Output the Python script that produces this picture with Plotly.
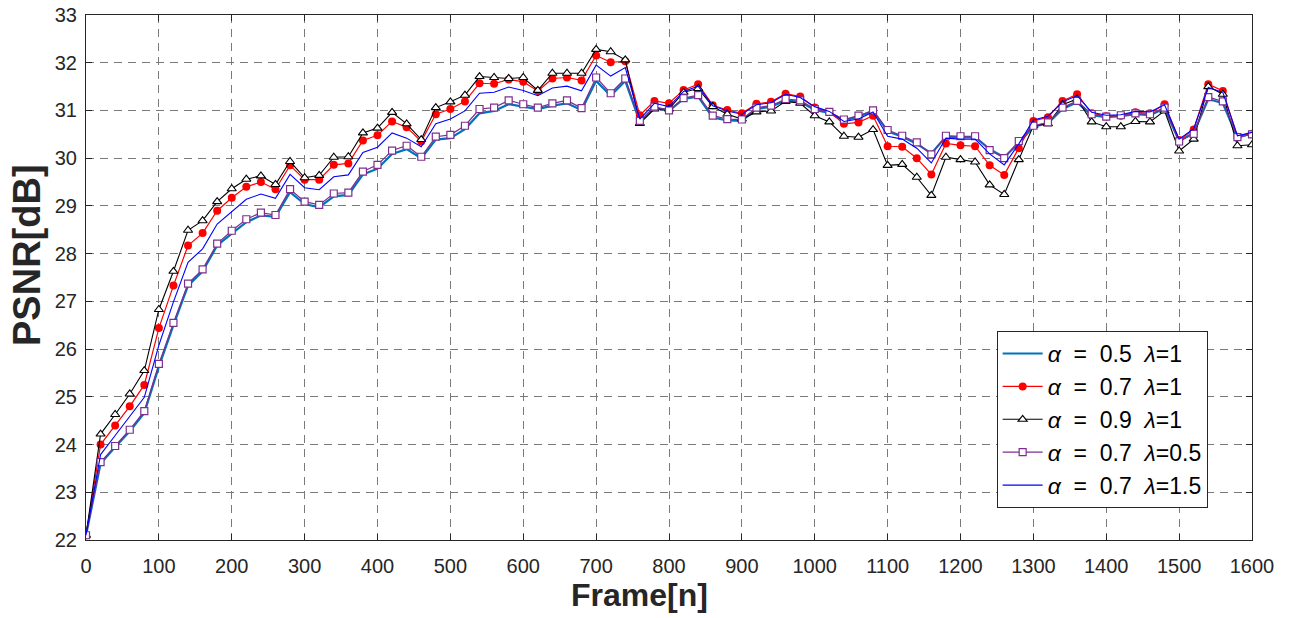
import plotly.graph_objects as go

# Frame index (every 20 frames)
frames = list(range(0, 1601, 20))

# PSNR [dB] per configuration
psnr_a05_l1 = [22.1, 23.6, 23.95, 24.28, 24.66, 25.63, 26.5, 27.33, 27.63, 28.17,
               28.42, 28.66, 28.8, 28.77, 29.29, 29.04, 28.97, 29.2, 29.23, 29.66,
               29.78, 30.09, 30.19, 30.0, 30.39, 30.42, 30.61, 30.94, 30.99, 31.13,
               31.08, 31.03, 31.1, 31.15, 31.01, 31.62, 31.31, 31.62, 30.76, 31.06,
               30.99, 31.24, 31.29, 30.85, 30.79, 30.78, 31.03, 31.08, 31.21, 31.18,
               31.01, 30.95, 30.79, 30.87, 30.99, 30.56, 30.45, 30.3, 30.1, 30.45,
               30.44, 30.44, 30.19, 30.02, 30.32, 30.66, 30.73, 31.03, 31.17, 30.9,
               30.86, 30.88, 30.92, 30.9, 31.04, 30.36, 30.53, 31.24, 31.15, 30.43,
               30.52]
psnr_a07_l1 = [22.1, 24.0, 24.4, 24.8, 25.25, 26.44, 27.33, 28.17, 28.43, 28.9,
               29.17, 29.4, 29.5, 29.35, 29.85, 29.55, 29.55, 29.86, 29.89, 30.37,
               30.48, 30.77, 30.65, 30.35, 30.92, 31.03, 31.19, 31.57, 31.56, 31.65,
               31.6, 31.41, 31.67, 31.69, 31.63, 32.15, 32.01, 32.03, 30.9, 31.2,
               31.15, 31.43, 31.55, 31.11, 31.01, 30.94, 31.14, 31.18, 31.35, 31.29,
               31.06, 30.97, 30.72, 30.75, 30.89, 30.25, 30.24, 30.0, 29.66, 30.31,
               30.27, 30.25, 29.85, 29.65, 30.21, 30.78, 30.86, 31.2, 31.34, 30.94,
               30.88, 30.89, 30.96, 30.94, 31.13, 30.38, 30.6, 31.55, 31.41, 30.45,
               30.51]
psnr_a09_l1 = [22.1, 24.22, 24.63, 25.06, 25.55, 26.83, 27.63, 28.49, 28.69, 29.09,
               29.36, 29.56, 29.63, 29.45, 29.93, 29.59, 29.64, 30.02, 30.03, 30.53,
               30.63, 30.96, 30.72, 30.39, 31.06, 31.18, 31.32, 31.71, 31.69, 31.67,
               31.69, 31.42, 31.78, 31.78, 31.78, 32.28, 32.23, 32.06, 30.73, 31.03,
               31.03, 31.38, 31.46, 31.08, 30.92, 30.82, 30.97, 30.99, 31.19, 31.15,
               30.89, 30.76, 30.46, 30.44, 30.6, 29.85, 29.87, 29.6, 29.22, 30.02,
               29.97, 29.92, 29.44, 29.24, 29.97, 30.68, 30.72, 31.12, 31.24, 30.76,
               30.66, 30.66, 30.77, 30.76, 30.99, 30.15, 30.4, 31.5, 31.34, 30.26,
               30.28]
psnr_a07_l05 = [22.1, 23.63, 23.97, 24.31, 24.7, 25.69, 26.55, 27.37, 27.67, 28.21,
                28.48, 28.72, 28.86, 28.81, 29.35, 29.09, 29.02, 29.26, 29.28, 29.72,
                29.86, 30.16, 30.26, 30.03, 30.45, 30.49, 30.68, 31.03, 31.06, 31.21,
                31.13, 31.06, 31.15, 31.21, 31.05, 31.69, 31.36, 31.67, 30.78, 31.08,
                31.0, 31.26, 31.32, 30.89, 30.82, 30.81, 31.06, 31.1, 31.24, 31.21,
                31.03, 30.97, 30.81, 30.89, 31.0, 30.59, 30.47, 30.33, 30.08, 30.47,
                30.46, 30.46, 30.17, 30.0, 30.36, 30.68, 30.75, 31.06, 31.2, 30.92,
                30.87, 30.9, 30.94, 30.92, 31.06, 30.35, 30.51, 31.28, 31.19, 30.44,
                30.5]
psnr_a07_l15 = [22.1, 23.79, 24.19, 24.59, 24.99, 26.08, 26.99, 27.82, 28.1, 28.62,
                28.88, 29.14, 29.25, 29.16, 29.66, 29.38, 29.34, 29.61, 29.65, 30.12,
                30.23, 30.53, 30.42, 30.24, 30.72, 30.82, 30.99, 31.36, 31.38, 31.49,
                31.42, 31.31, 31.47, 31.51, 31.41, 31.95, 31.72, 31.9, 30.82, 31.15,
                31.08, 31.4, 31.51, 31.1, 30.99, 30.92, 31.12, 31.16, 31.34, 31.27,
                31.08, 30.98, 30.77, 30.82, 30.97, 30.46, 30.4, 30.21, 29.9, 30.42,
                30.4, 30.4, 30.09, 29.86, 30.3, 30.8, 30.88, 31.18, 31.31, 30.96,
                30.9, 30.91, 30.98, 30.97, 31.12, 30.4, 30.62, 31.48, 31.38, 30.47,
                30.54]

x_ticks = list(range(0, 1601, 100))
y_ticks = list(range(22, 34))

SP = "\u00a0 "  # wide gap between legend tokens
series_names = [
    f"<i>α</i>{SP}={SP}0.5{SP}<i>λ</i>=1",
    f"<i>α</i>{SP}={SP}0.7{SP}<i>λ</i>=1",
    f"<i>α</i>{SP}={SP}0.9{SP}<i>λ</i>=1",
    f"<i>α</i>{SP}={SP}0.7{SP}<i>λ</i>=0.5",
    f"<i>α</i>{SP}={SP}0.7{SP}<i>λ</i>=1.5",
]

fig = go.Figure()

fig.add_trace(go.Scatter(
    x=frames, y=psnr_a05_l1, name=series_names[0], mode="lines",
    line=dict(color="#0072BD", width=2.2)))
fig.add_trace(go.Scatter(
    x=frames, y=psnr_a07_l1, name=series_names[1], mode="lines+markers",
    line=dict(color="#FF0000", width=1.2),
    marker=dict(symbol="circle", size=8, color="#FF0000")))
fig.add_trace(go.Scatter(
    x=frames, y=psnr_a09_l1, name=series_names[2], mode="lines+markers",
    line=dict(color="#000000", width=1.1),
    marker=dict(symbol="triangle-up", size=8, color="white",
                line=dict(color="#000000", width=1.1))))
fig.add_trace(go.Scatter(
    x=frames, y=psnr_a07_l05, name=series_names[3], mode="lines+markers",
    line=dict(color="#7E2F8E", width=1.2),
    marker=dict(symbol="square", size=7, color="white",
                line=dict(color="#7E2F8E", width=1.2))))
fig.add_trace(go.Scatter(
    x=frames, y=psnr_a07_l15, name=series_names[4], mode="lines",
    line=dict(color="#0000FF", width=1.1)))

tick_font = dict(family="Liberation Sans Narrow, Arial Narrow, Liberation Sans, Arial",
                 size=20, color="#262626")
grid_style = dict(showgrid=True, gridcolor="#7a7a7a", gridwidth=1, griddash="8px,6px")

fig.update_xaxes(
    range=[0, 1600], tickvals=x_ticks, ticktext=[str(v) for v in x_ticks],
    tickfont=tick_font, ticks="inside", ticklen=6, tickcolor="#262626",
    ticklabelstandoff=8,
    showline=True, linecolor="#262626", linewidth=1, mirror="ticks",
    zeroline=False, automargin=False, **grid_style)
fig.update_yaxes(
    range=[22, 33], tickvals=y_ticks, ticktext=[str(v) for v in y_ticks],
    tickfont=tick_font, ticks="inside", ticklen=6, tickcolor="#262626",
    ticklabelstandoff=4,
    showline=True, linecolor="#262626", linewidth=1, mirror="ticks",
    zeroline=False, automargin=False, **grid_style)

# Axis titles
fig.add_annotation(
    text="<b>Frame[n]</b>", xref="paper", yref="paper",
    x=(639 - 86) / 1166, y=-(595 - 540) / 525, xanchor="center", yanchor="middle",
    showarrow=False,
    font=dict(family="Liberation Sans, Arial", size=32, color="#262626"))
fig.add_annotation(
    text="<b>PSNR[dB]</b>", xref="paper", yref="paper",
    x=-(86 - 27) / 1166, y=(540 - 255) / 525, xanchor="center", yanchor="middle",
    textangle=-90, showarrow=False,
    font=dict(family="Liberation Sans, Arial", size=38, color="#262626"))

fig.update_layout(
    width=1296, height=618,
    margin=dict(l=86, r=44, t=15, b=78, autoexpand=False),
    paper_bgcolor="white", plot_bgcolor="white",
    legend=dict(
        x=0.781, y=0.398, xanchor="left", yanchor="top",
        bgcolor="white", bordercolor="#262626", borderwidth=1,
        font=dict(family="Liberation Sans, Arial", size=23, color="#000000"),
        itemwidth=40, tracegroupgap=0),
    showlegend=True,
)

fig.write_html("out.html")
